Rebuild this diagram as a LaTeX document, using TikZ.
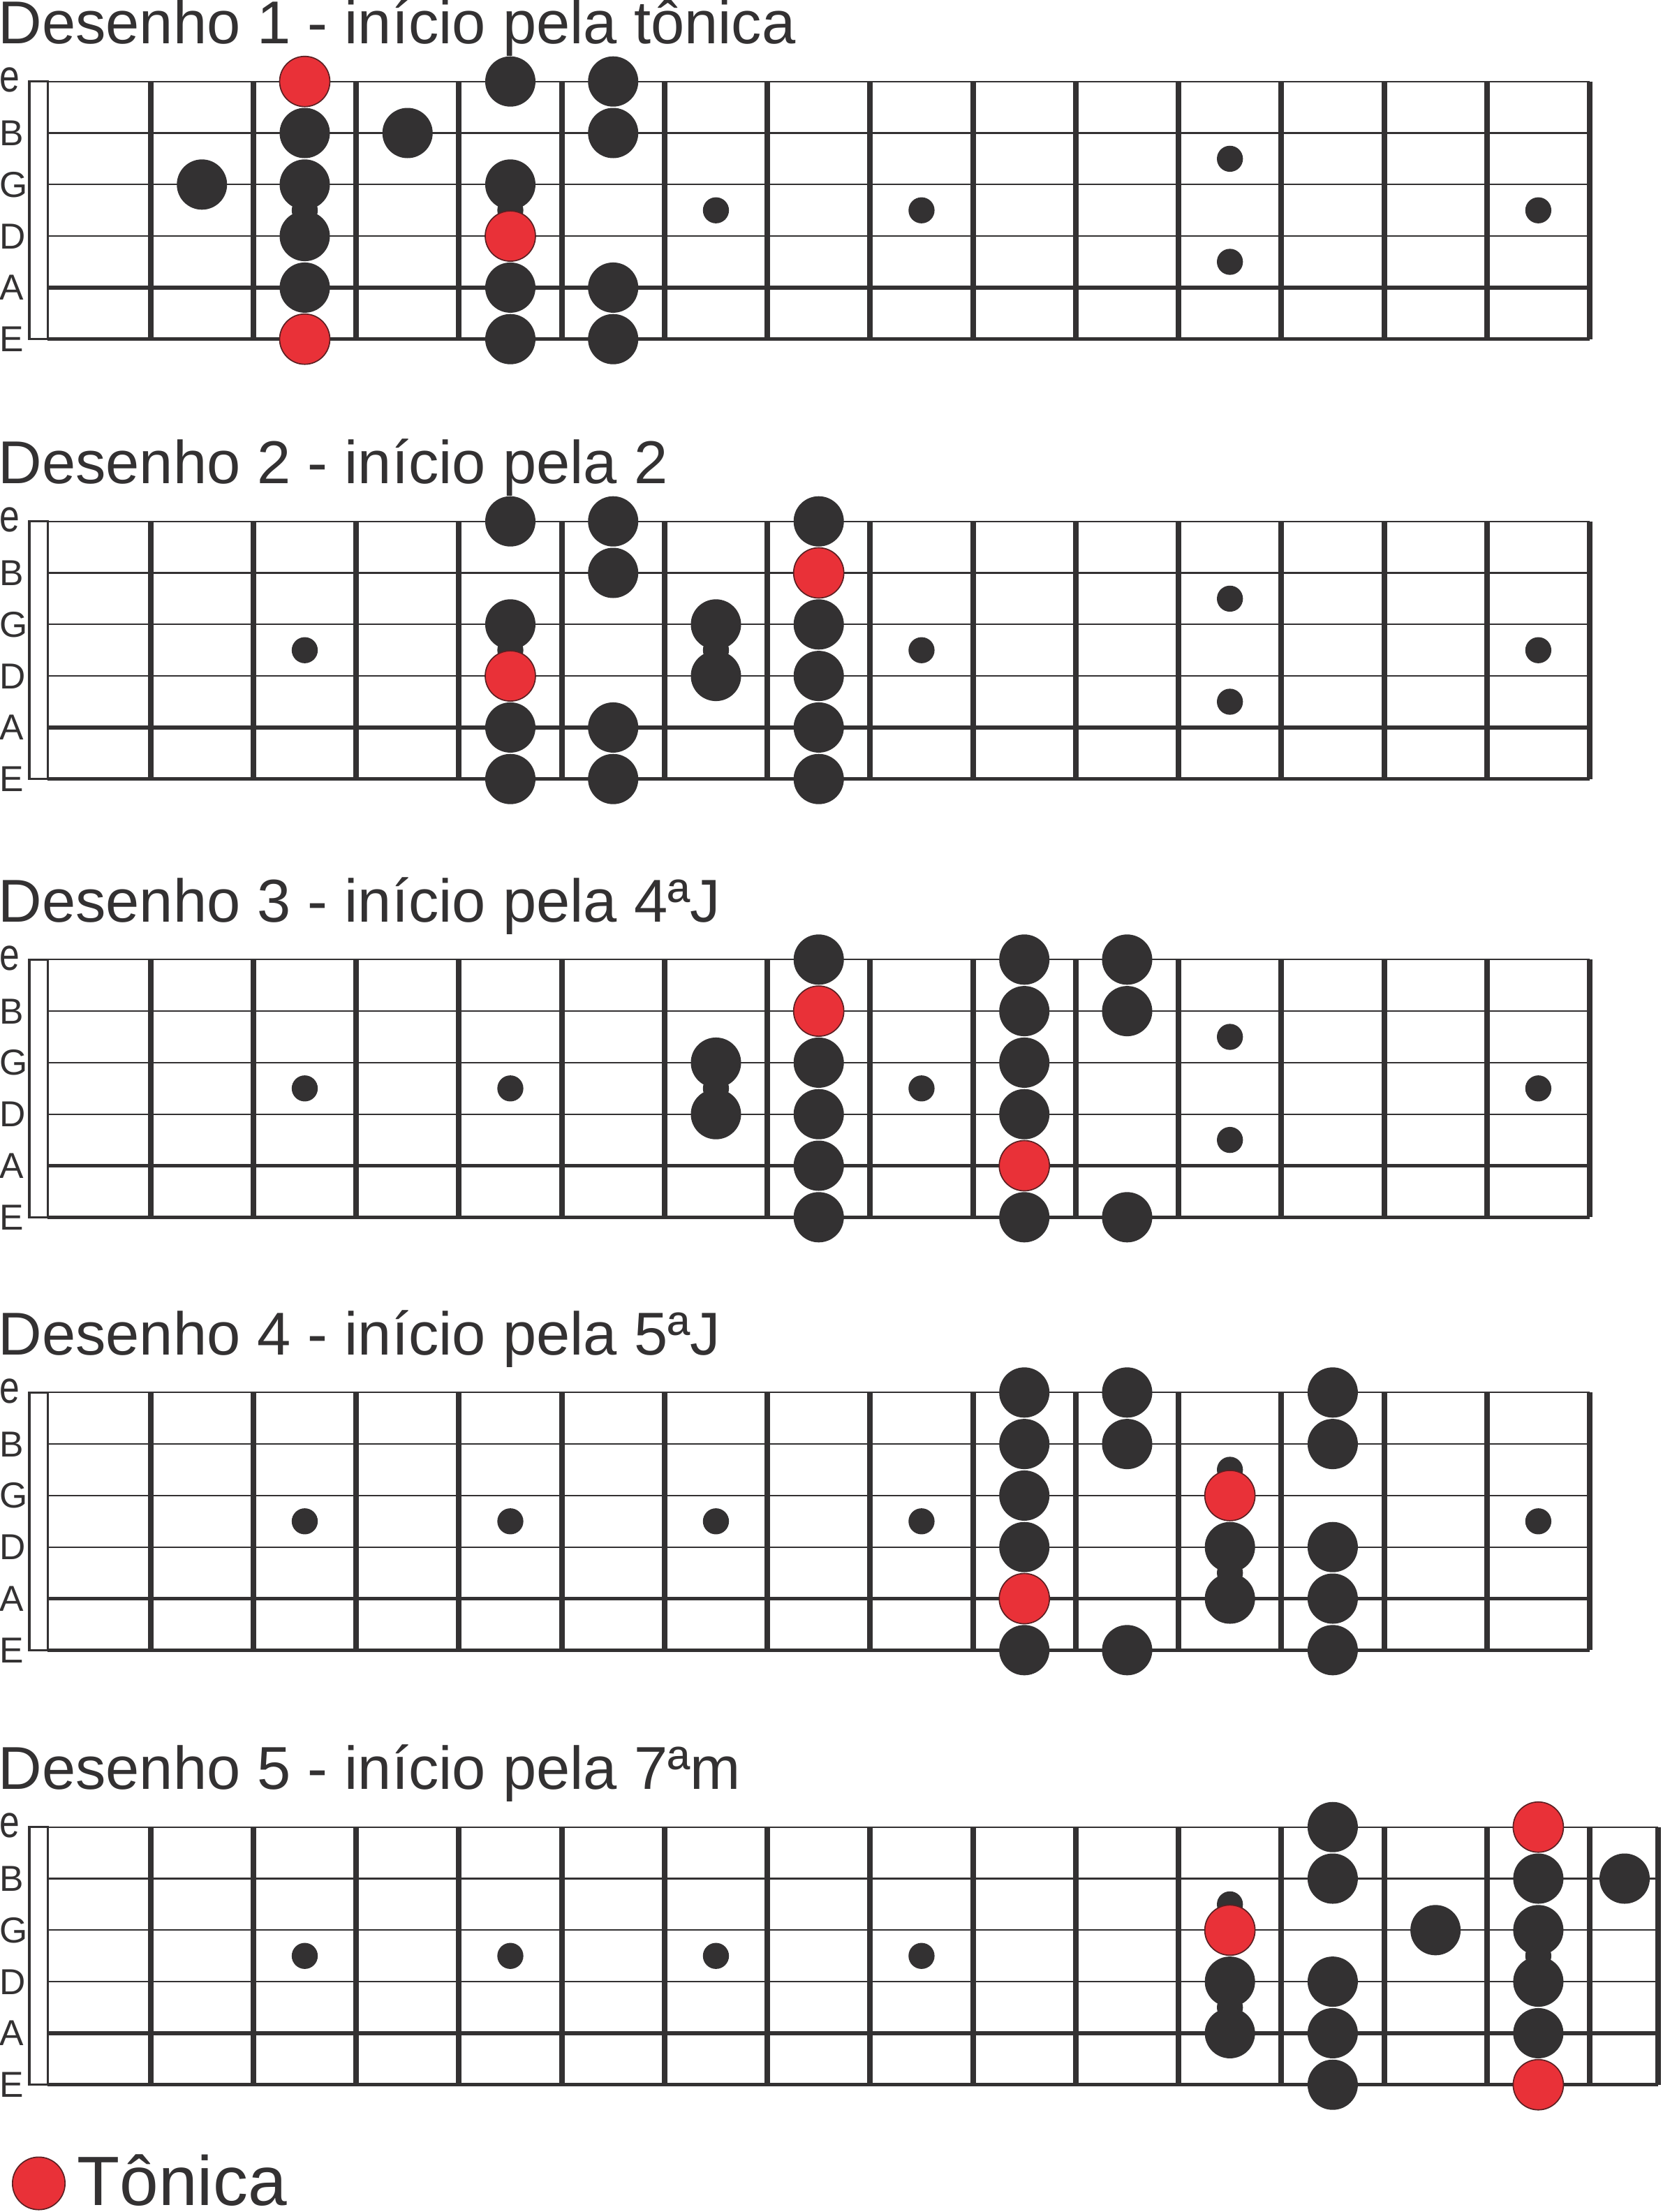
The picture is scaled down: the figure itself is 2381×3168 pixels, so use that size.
\documentclass[tikz,border=0pt]{standalone}
\usepackage{fontspec}
\setmainfont{Liberation Sans}
\definecolor{ink}{HTML}{333132}
\definecolor{tonic}{HTML}{E93138}
\definecolor{tonicedge}{HTML}{5A1F22}
\tikzset{
  ttl/.style={inner sep=0pt, anchor=base west, text=ink, font=\fontsize{26pt}{30pt}\selectfont},
  lbl/.style={inner sep=0pt, anchor=base west, text=ink, font=\fontsize{15.5pt}{17pt}\selectfont},
  thinstr/.style={draw=ink, line width=0.65pt},
  thickstr/.style={draw=ink, line width=1.65pt},
  fretline/.style={draw=ink, line width=2.4pt},
  nutbox/.style={draw=ink, line width=0.95pt},
  blacknote/.style={fill=ink},
  rednote/.style={fill=tonic, draw=tonicedge, line width=0.5pt},
  inlay/.style={fill=ink},
}
% #1 = y of top string, #2 = x of right end, #3 = last inner fret index
\newcommand\fboard[3]{%
  \draw[nutbox] (42,#1) rectangle (68.4,{#1+369});
  \foreach \s in {0,1,2,3} {\draw[thinstr] (68.4,{#1+73.8*\s}) -- (#2,{#1+73.8*\s});}
  \foreach \s in {4,5} {\draw[thickstr] (68.4,{#1+73.8*\s}) -- (#2,{#1+73.8*\s});}
  \foreach \k in {1,...,#3} {\draw[fretline] ({68.4+147.24*\k},#1) -- ({68.4+147.24*\k},{#1+369});}
  \draw[fretline] (#2,#1) -- (#2,{#1+369});
  \node[lbl] at (-1,{#1+15}) {\scalebox{1}[1.25]{e}};
  \node[lbl] at (-1,{#1+73.8+18}) {B};
  \node[lbl] at (-1,{#1+73.8*2+18}) {G};
  \node[lbl] at (-1,{#1+73.8*3+18}) {D};
  \node[lbl] at (-1,{#1+73.8*4+18}) {A};
  \node[lbl] at (-1,{#1+73.8*5+18}) {E};
}
% inlay dots: #1 = y of top string, #2 = fret index, #3 = position between strings
\newcommand\inl[3]{\fill[inlay] ({68.4+147.24*(#2-0.5)},{#1+73.8*#3}) circle[radius=5.6pt];}
% notes: #1 = y of top string, #2 = fret index, #3 = string (1 = e ... 6 = E)
\newcommand\bn[3]{\fill[blacknote] ({68.4+147.24*(#2-0.5)},{#1+73.8*(#3-1)}) circle[radius=10.8pt];}
\newcommand\rn[3]{\filldraw[rednote] ({68.4+147.24*(#2-0.5)},{#1+73.8*(#3-1)}) circle[radius=10.8pt];}
\newcommand\stdinlays[1]{%
  \foreach \f in {3,5,7,9,15} {\inl{#1}{\f}{2.5}}
  \inl{#1}{12}{1.5} \inl{#1}{12}{3.5}
}
\begin{document}
\begin{tikzpicture}[x=0.3pt, y=-0.3pt]
\useasboundingbox (0,0) rectangle (2381,3168);
% ---------------- Desenho 1
\def\Ya{116.7}
\node[ttl] (t1) at (-3,{\Ya-54}) {Desenho 1 - início pela tônica};
\fboard{\Ya}{2277}{14}
\stdinlays{\Ya}
\foreach \s in {2,3,4,5} {\bn{\Ya}{3}{\s}}
\bn{\Ya}{2}{3}
\bn{\Ya}{4}{2}
\foreach \s in {1,3,5,6} {\bn{\Ya}{5}{\s}}
\foreach \s in {1,2,5,6} {\bn{\Ya}{6}{\s}}
\rn{\Ya}{3}{1} \rn{\Ya}{3}{6} \rn{\Ya}{5}{4}
% ---------------- Desenho 2
\def\Yb{746.7}
\node[ttl] (t2) at (-3,{\Yb-54}) {Desenho 2 - início pela 2};
\fboard{\Yb}{2277}{14}
\stdinlays{\Yb}
\foreach \s in {1,3,5,6} {\bn{\Yb}{5}{\s}}
\foreach \s in {1,2,5,6} {\bn{\Yb}{6}{\s}}
\foreach \s in {3,4} {\bn{\Yb}{7}{\s}}
\foreach \s in {1,3,4,5,6} {\bn{\Yb}{8}{\s}}
\rn{\Yb}{5}{4} \rn{\Yb}{8}{2}
% ---------------- Desenho 3
\def\Yc{1374.3}
\node[ttl] (t3) at (-3,{\Yc-54}) {Desenho 3 - início pela 4ªJ};
\fboard{\Yc}{2277}{14}
\stdinlays{\Yc}
\foreach \s in {3,4} {\bn{\Yc}{7}{\s}}
\foreach \s in {1,3,4,5,6} {\bn{\Yc}{8}{\s}}
\foreach \s in {1,2,3,4,6} {\bn{\Yc}{10}{\s}}
\foreach \s in {1,2,6} {\bn{\Yc}{11}{\s}}
\rn{\Yc}{8}{2} \rn{\Yc}{10}{5}
% ---------------- Desenho 4
\def\Yd{1994.3}
\node[ttl] (t4) at (-3,{\Yd-54}) {Desenho 4 - início pela 5ªJ};
\fboard{\Yd}{2277}{14}
\stdinlays{\Yd}
\foreach \s in {1,2,3,4,6} {\bn{\Yd}{10}{\s}}
\foreach \s in {1,2,6} {\bn{\Yd}{11}{\s}}
\foreach \s in {4,5} {\bn{\Yd}{12}{\s}}
\foreach \s in {1,2,4,5,6} {\bn{\Yd}{13}{\s}}
\rn{\Yd}{10}{5} \rn{\Yd}{12}{3}
% ---------------- Desenho 5
\def\Ye{2616.7}
\node[ttl] (t5) at (-3,{\Ye-54}) {Desenho 5 - início pela 7ªm};
\fboard{\Ye}{2375}{15}
\stdinlays{\Ye}
\foreach \s in {4,5} {\bn{\Ye}{12}{\s}}
\foreach \s in {1,2,4,5,6} {\bn{\Ye}{13}{\s}}
\bn{\Ye}{14}{3}
\foreach \s in {2,3,4,5} {\bn{\Ye}{15}{\s}}
\fill[blacknote] (2327,{\Ye+73.8}) circle[radius=10.8pt];
\rn{\Ye}{12}{3} \rn{\Ye}{15}{1} \rn{\Ye}{15}{6}
% ---------------- legend
\filldraw[rednote] (55.5,3127) circle[radius=11.3pt];
\node[inner sep=0pt, anchor=base west, text=ink, font=\fontsize{30pt}{34pt}\selectfont] (leg) at (110,3158) {Tônica};
\end{tikzpicture}
\end{document}
